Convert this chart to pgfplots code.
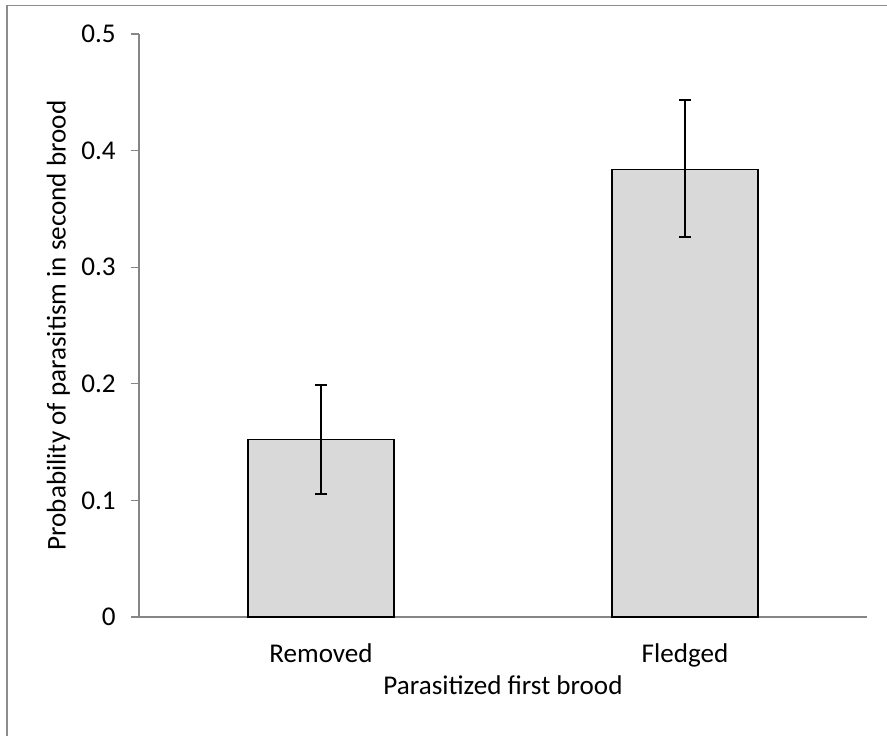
\documentclass[border=0pt]{standalone}
\usepackage{fontspec}
\setmainfont{Carlito}
\usepackage{pgfplots}
\pgfplotsset{compat=1.18}
\definecolor{axgray}{HTML}{868686}
\definecolor{barfill}{HTML}{D9D9D9}
\definecolor{bordergray}{HTML}{8C8C8C}
\newcommand{\lblfont}{\fontsize{13.6}{16.3}\selectfont}
\begin{document}
\lblfont
\begin{tikzpicture}
\useasboundingbox (0,0) rectangle (443.5bp,368bp);
\draw[bordergray, line width=0.9bp] (3.5bp,0) -- (3.5bp,365.25bp) -- (443.5bp,365.25bp);
\begin{axis}[
  at={(69.5bp,59.5bp)}, anchor=south west,
  scale only axis, width=364bp, height=291.5bp,
  xmin=-0.5, xmax=1.5, ymin=0, ymax=0.5,
  axis x line*=bottom, axis y line*=left,
  axis line style={draw=axgray, line width=0.6bp, -},
  ytick={0,0.1,0.2,0.3,0.4,0.5},
  yticklabels={0,0.1,0.2,0.3,0.4,0.5},
  xtick={0,1}, xticklabels={Removed,Fledged},
  tick align=outside,
  major tick length=3.75bp,
  tick style={draw=axgray, line width=0.6bp},
  x tick style={draw=none},
  extra x ticks={-0.5,0.5,1.5},
  extra x tick labels={},
  extra x tick style={major tick style={draw=axgray, line width=0.6bp}},
  yticklabel style={inner sep=0pt, anchor=east, xshift=-7.75bp, font=\lblfont},
  xticklabel style={inner sep=0pt, anchor=north, yshift=-9.5bp, font=\lblfont},
  xlabel={Parasitized first brood},
  ylabel={Probability of parasitism in second brood},
  xlabel style={at={(axis description cs:0.5,0)}, anchor=north, inner sep=0pt, yshift=-29bp, font=\lblfont},
  ylabel style={at={(axis description cs:-0.1106,0.5)}, anchor=center, inner sep=0pt, font=\lblfont},
  clip=false,
]
\addplot[ybar, bar width=0.4011, fill=barfill, draw=black, line width=0.7bp,
  error bars/.cd, y dir=both, y explicit,
  error bar style={black, line width=0.65bp},
  error mark options={rotate=90, mark size=3bp, line width=0.65bp, black}]
coordinates {
  (0,0.152) += (0,0.047) -= (0,0.0465)
  (1,0.384) += (0,0.0594) -= (0,0.058)
};
\end{axis}
\end{tikzpicture}
\end{document}
